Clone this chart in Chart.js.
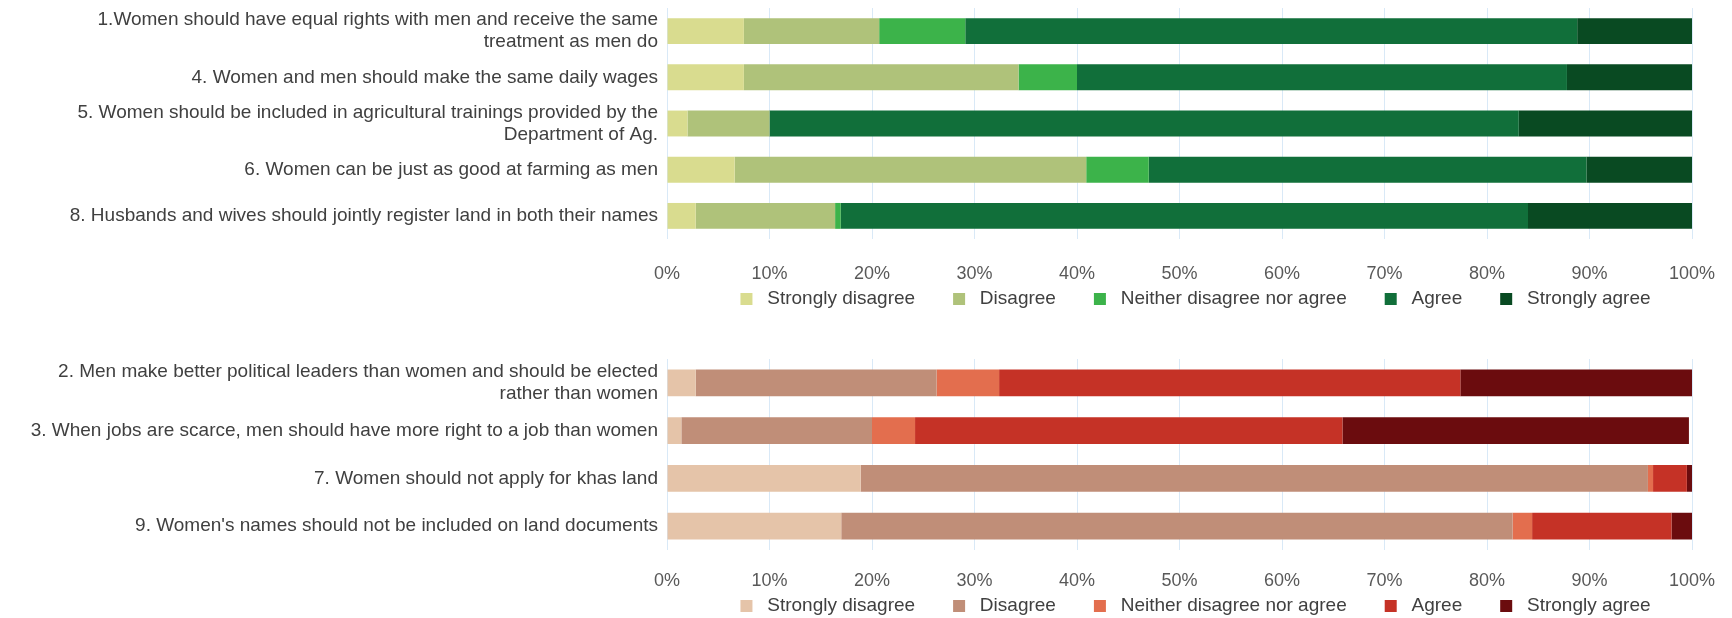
<!DOCTYPE html>
<html><head><meta charset="utf-8">
<script src="https://cdn.jsdelivr.net/npm/chart.js@4.4.1/dist/chart.umd.min.js"></script>
<style>
html,body{margin:0;padding:0;background:#fff;overflow:hidden;width:1732px;height:618px;}
.box{position:absolute;left:0;width:1732px;}
canvas{display:block;}
</style></head><body>
<div class="box" style="top:0;height:355px"><canvas id="c1" width="1732" height="355"></canvas></div>
<div class="box" style="top:330px;height:335px"><canvas id="c2" width="1732" height="335"></canvas></div>
<script>
// ---- data ----
const responseLabels = ['Strongly disagree', 'Disagree', 'Neither disagree nor agree', 'Agree', 'Strongly agree'];
const xTickValues = [0, 10, 20, 30, 40, 50, 60, 70, 80, 90, 100];

const topStatements = [
  ['1.Women should have equal rights with men and receive the same', 'treatment as men do'],
  '4. Women and men should make the same daily wages',
  ['5. Women should be included in agricultural trainings provided by the', 'Department of Ag.'],
  '6. Women can be just as good at farming as men',
  '8. Husbands and wives should jointly register land in both their names'
];
const topStronglyDisagree = [7.5, 7.5, 2.0, 6.6, 2.8];
const topDisagree         = [13.2, 26.8, 8.0, 34.3, 13.6];
const topNeither          = [8.4, 5.7, 0, 6.1, 0.55];
const topAgree            = [59.7, 47.8, 73.1, 42.7, 67.05];
const topStronglyAgree    = [11.2, 12.2, 16.9, 10.3, 16.0];

const bottomStatements = [
  ['2. Men make better political leaders than women and should be elected', 'rather than women'],
  '3. When jobs are scarce, men should have more right to a job than women',
  '7. Women should not apply for khas land',
  "9. Women's names should not be included on land documents"
];
const bottomStronglyDisagree = [2.8, 1.4, 18.9, 17.0];
const bottomDisagree         = [23.5, 18.6, 76.8, 65.5];
const bottomNeither          = [6.1, 4.2, 0.5, 1.9];
const bottomAgree            = [45.0, 41.7, 3.3, 13.6];
const bottomStronglyAgree    = [22.6, 33.8, 0.5, 2.0];

const greenColors = ['#d9dc8f', '#afc27a', '#3cb34a', '#116f3a', '#094a22'];
const redColors   = ['#e5c4a9', '#c08e78', '#e36e4e', '#c53226', '#6b0c0e'];

// ---- chart setup ----
const FONT = "'Liberation Sans', Arial, sans-serif";
Chart.defaults.font.family = FONT;
Chart.defaults.color = '#404040';

const legendShift = {
  id: 'legendShift',
  afterLayout(chart, args, opts) {
    const l = chart.legend;
    if (!l) return;
    const dx = opts.dx || 0, dy = opts.dy || 0;
    l.left += dx; l.right += dx; l.top += dy; l.bottom += dy;
  }
};

function makeChart(id, labels, series, colors, pad, tickPad, shift) {
  const datasets = series.map((data, i) => ({
    label: responseLabels[i],
    data: data,
    backgroundColor: colors[i],
    borderWidth: 0,
    barPercentage: 0.56,
    categoryPercentage: 1.0
  }));
  return new Chart(document.getElementById(id), {
    type: 'bar',
    data: { labels: labels, datasets: datasets },
    plugins: [legendShift],
    options: {
      indexAxis: 'y',
      responsive: false,
      animation: false,
      layout: { padding: pad },
      scales: {
        x: {
          stacked: true, min: 0, max: 100,
          afterBuildTicks(scale) { scale.ticks = xTickValues.map(v => ({ value: v })); },
          afterFit(scale) { scale.height = 45; scale.paddingLeft = 0; scale.paddingRight = 0; },
          grid: { color: '#d9e9f7', lineWidth: 1, drawTicks: false },
          border: { display: false },
          ticks: { padding: tickPad, color: '#595959', font: { size: 18 }, callback: v => v + '%' }
        },
        y: {
          stacked: true,
          afterFit(scale) { scale.width = 667; scale.paddingTop = 0; scale.paddingBottom = 0; },
          grid: { display: false, drawTicks: false },
          border: { display: false },
          ticks: { padding: 9, color: '#404040', font: { size: 19, lineHeight: 1.15 }, autoSkip: false }
        }
      },
      plugins: {
        legend: {
          position: 'bottom',
          fullSize: false,
          labels: {
            boxWidth: 12, boxHeight: 12, padding: 38, color: '#404040',
            font: { size: 19 },
            generateLabels(chart) {
              const items = Chart.defaults.plugins.legend.labels.generateLabels(chart);
              items.forEach(it => { it.text = ' ' + it.text; it.lineWidth = 0; });
              return items;
            }
          }
        },
        legendShift: shift,
        tooltip: { enabled: false }
      }
    }
  });
}

makeChart('c1', topStatements,
  [topStronglyDisagree, topDisagree, topNeither, topAgree, topStronglyAgree],
  greenColors, { top: 8, bottom: 4, left: 0, right: 40 }, 24, { dx: 16, dy: -32.5 });

makeChart('c2', bottomStatements,
  [bottomStronglyDisagree, bottomDisagree, bottomNeither, bottomAgree, bottomStronglyAgree],
  redColors, { top: 29, bottom: 3, left: 0, right: 40 }, 20, { dx: 16, dy: -36.5 });
</script>
</body></html>
